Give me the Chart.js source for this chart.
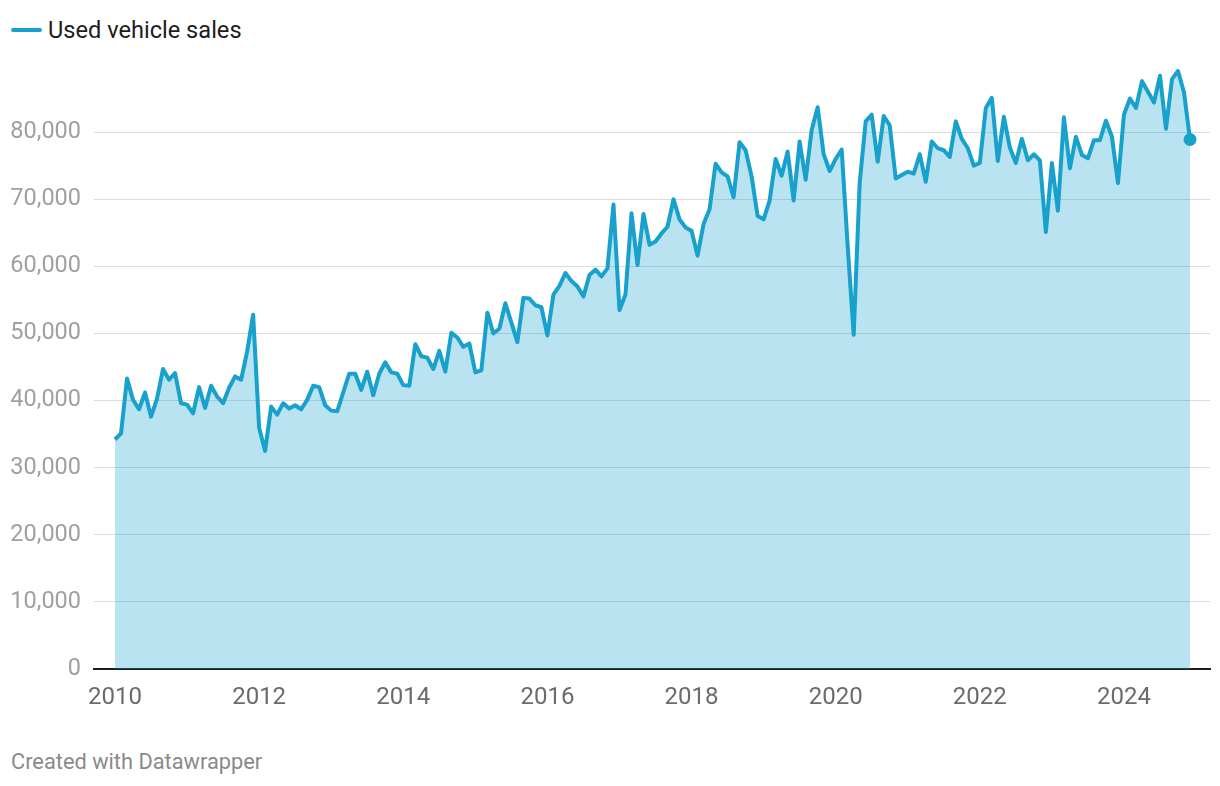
<!DOCTYPE html>
<html lang="en">
<head>
<meta charset="UTF-8">
<title>Used vehicle sales</title>
<script src="https://cdn.jsdelivr.net/npm/chart.js"></script>
<style>
  body { margin: 0; background: #fff; font-family: Roboto, sans-serif; }
  #legend { position: absolute; left: 11px; top: 17px; height: 26px; line-height: 26px;
            font-size: 23.6px; color: #1d1d1d; display: flex; align-items: center; }
  #legend .swatch { width: 31px; height: 4px; border-radius: 2px; background: #18a1cd; margin-right: 6px; }
  #wrap { position: absolute; left: 0; top: 0; width: 1220px; height: 730px; }
  #footer { position: absolute; left: 11px; top: 749px; line-height: 26px; font-size: 21.8px; color: #8a8a8a; }
</style>
<script>
  // monthly used vehicle sales, Jan 2010 .. Dec 2024
  const startYear = 2010;
  const sales2010to2012 = [
    34200, 35100, 43300, 40100, 38700, 41200, 37600, 40300, 44700, 43100, 44100, 39600,
    39400, 38100, 42000, 38900, 42200, 40600, 39600, 41900, 43600, 43100, 47300, 52800,
    35900, 32500, 39100, 37900, 39600, 38800, 39300, 38700, 40100, 42200, 42000, 39300
  ];
  const sales2013to2015 = [
    38500, 38400, 41200, 44000, 44000, 41600, 44300, 40800, 44000, 45700, 44200, 44000,
    42300, 42200, 48400, 46600, 46400, 44700, 47400, 44300, 50100, 49400, 48000, 48500,
    44200, 44500, 53100, 50000, 50700, 54500, 51600, 48700, 55300, 55200, 54200, 53900
  ];
  const sales2016to2018 = [
    49700, 55800, 57100, 59000, 57800, 57000, 55500, 58700, 59500, 58500, 59700, 69200,
    53500, 55800, 67900, 60200, 67800, 63200, 63700, 64900, 65900, 70000, 67000, 65800,
    65300, 61600, 66300, 68500, 75300, 74000, 73400, 70300, 78500, 77300, 73400, 67500
  ];
  const sales2019to2021 = [
    67000, 69800, 76000, 73500, 77100, 69800, 78600, 72900, 80300, 83700, 76700, 74200,
    76000, 77400, 63000, 49800, 72500, 81600, 82600, 75600, 82400, 81000, 73100, 73600,
    74100, 73800, 76700, 72600, 78600, 77600, 77300, 76300, 81600, 79000, 77600, 75000
  ];
  const sales2022to2024 = [
    75400, 83600, 85100, 75700, 82300, 77700, 75400, 79000, 75800, 76700, 75800, 65100,
    75400, 68300, 82200, 74600, 79300, 76600, 76100, 78800, 78800, 81700, 79300, 72400,
    82600, 85000, 83600, 87600, 86000, 84400, 88400, 80500, 87900, 89100, 85900, 78900
  ];
  const xTickYears = [2010, 2012, 2014, 2016, 2018, 2020, 2022, 2024];
  const yTickValues = [0, 10000, 20000, 30000, 40000, 50000, 60000, 70000, 80000];
  const seriesName = "Used vehicle sales";

  const sales = [].concat(sales2010to2012, sales2013to2015, sales2016to2018, sales2019to2021, sales2022to2024);
</script>
</head>
<body>
<div id="legend"><span class="swatch"></span><span>Used vehicle sales</span></div>
<div id="wrap"><canvas id="myChart"></canvas></div>
<div id="footer">Created with Datawrapper</div>

<script>
  Chart.defaults.font.family = 'Roboto';
  const lineColor = '#18a1cd';
  const lastIndex = sales.length - 1;
  const points = sales.map((v, i) => ({ x: startYear + i / 12, y: v }));

  new Chart(document.getElementById('myChart'), {
    type: 'line',
    data: {
      datasets: [{
        label: seriesName,
        data: points,
        borderColor: lineColor,
        borderWidth: 4,
        borderJoinStyle: 'round',
        backgroundColor: 'rgba(24,161,205,0.3)',
        fill: 'origin',
        tension: 0,
        pointRadius: ctx => ctx.dataIndex === lastIndex ? 6.5 : 0,
        pointBackgroundColor: lineColor,
        pointBorderWidth: 0
      }]
    },
    options: {
      responsive: true,
      maintainAspectRatio: false,
      animation: false,
      layout: { padding: { top: 65, right: 10, left: 0, bottom: 0 } },
      plugins: { legend: { display: false }, tooltip: { enabled: false } },
      scales: {
        x: {
          type: 'linear',
          min: 2009.7086,
          max: 2025.194,
          afterBuildTicks: s => { s.ticks = xTickYears.map(v => ({ value: v })); },
          afterFit: s => { s.height = 61; },
          grid: { display: false, drawTicks: false },
          border: { display: true, color: '#1d1d1d', width: 2 },
          ticks: {
            autoSkip: false, maxRotation: 0, padding: 15,
            color: '#6b6b6b', font: { size: 24 },
            callback: v => String(v)
          }
        },
        y: {
          min: 0,
          max: 90000,
          afterBuildTicks: s => { s.ticks = yTickValues.map(v => ({ value: v })); },
          afterFit: s => { s.width = 94; },
          grid: { color: '#dcdcdc', drawTicks: false },
          border: { display: false },
          ticks: {
            padding: 13, color: '#a0a0a0', font: { size: 23.5 },
            callback: v => v.toLocaleString('en-US')
          }
        }
      }
    }
  });
</script>
</body>
</html>
